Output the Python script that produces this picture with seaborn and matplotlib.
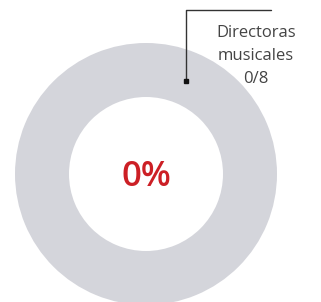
import matplotlib
matplotlib.use("Agg")
import matplotlib.pyplot as plt
import seaborn as sns

categories = ["Directoras musicales", "Directores musicales"]
values = [0, 8]

sns.set_theme(style="white")
plt.rcParams['font.family'] = ['Open Sans', 'DejaVu Sans']

fig = plt.figure(figsize=(3.21, 3.02), dpi=100)
ax = fig.add_axes([0, 0, 1, 1])

colors = ["#cc1f25", "#d4d5db"]
ax.pie(values, colors=colors, center=(146, 174), radius=131, startangle=90,
       counterclock=False, wedgeprops=dict(width=54, linewidth=0), frame=True)
ax.set_xlim(0, 321)
ax.set_ylim(302, 0)
ax.set_aspect('equal')
ax.axis('off')

total = sum(values)
pct = values[0] / total * 100
ax.text(146, 177, f"{pct:.0f}%", ha='center', va='center', fontsize=25,
        color="#cc1f25", fontweight='semibold')

ax.plot([186, 186, 271], [81, 10, 10], color="#333333", lw=1)
ax.plot([186], [81], marker='s', ms=2.5, color="#111111")
ax.text(256, 56, f"Directoras\nmusicales\n{values[0]}/{total}", ha='center', va='center',
        fontsize=12, color="#444444", linespacing=1.6)

fig.savefig("out.png", dpi=100)
